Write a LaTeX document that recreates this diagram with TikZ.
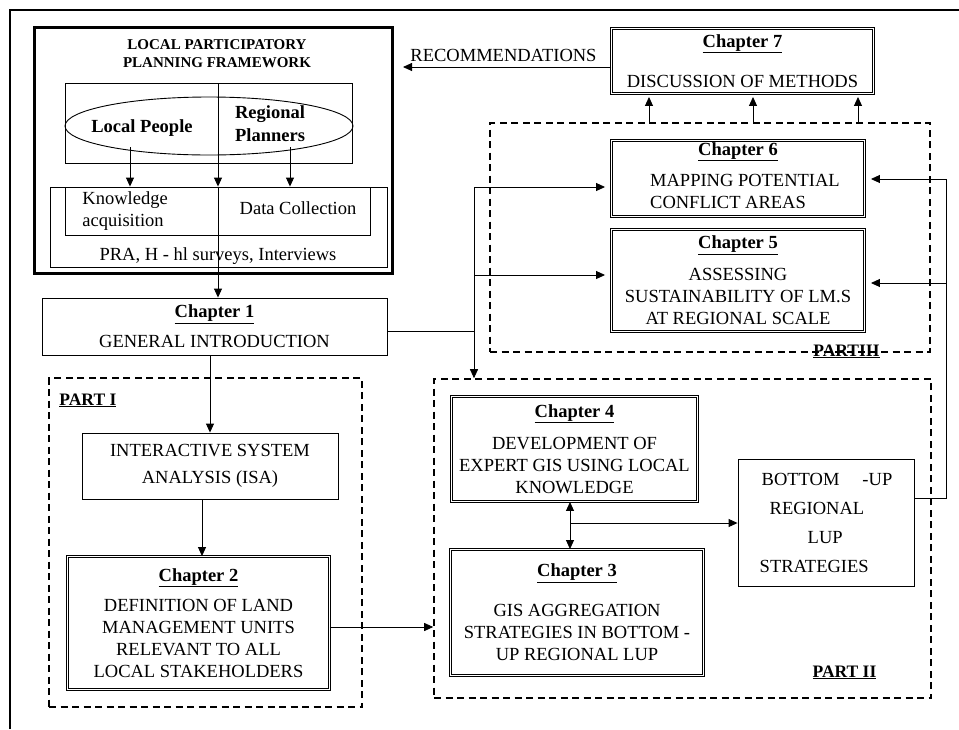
\documentclass[tikz,border=0pt]{standalone}
\usepackage{fontspec}
\setmainfont{Liberation Serif}
\usetikzlibrary{arrows.meta,shapes.geometric}
\newcommand{\chap}[1]{\underline{\textbf{#1}}}

\begin{document}
\begin{tikzpicture}[x=1pt, y=-1pt, line width=0.9pt,
                    every node/.style={font=\fontsize{18.5}{22}\selectfont,
                                       inner sep=0pt, align=center},
                    chapbox/.style={draw, double, double distance=1.5pt},
                    plainbox/.style={draw},
                    partbox/.style={draw, line width=1.6pt,
                                    dash pattern=on 7pt off 4.5pt},
                    partlabel/.style={font=\bfseries\fontsize{17.5}{20}\selectfont},
                    flow/.style={-{Triangle[length=9pt,width=8pt]}},
                    twoway/.style={{Triangle[length=9pt,width=8pt]}-{Triangle[length=9pt,width=8pt]}}]
  \useasboundingbox (0,0) rectangle (959,729);
  \draw[line width=2pt] (10,729) -- (10,10) -- (959,10);

  % framework
  \node[draw, line width=2.6pt, minimum width=358pt, minimum height=246pt] (lppf) at (213.5,150.5) {};
  \node[font=\bfseries\fontsize{15}{18}\selectfont] (title) at (217,54) {LOCAL PARTICIPATORY\\PLANNING FRAMEWORK};
  \node[plainbox, minimum width=287pt, minimum height=80pt] (actors) at (208.5,123) {};
  \node[draw, ellipse, minimum width=288pt, minimum height=58pt] (people) at (209,126) {};
  \node[font=\bfseries\fontsize{18.5}{22}\selectfont] (local) at (142,128) {Local People};
  \node[font=\bfseries\fontsize{18.5}{23}\selectfont] (regional) at (270,123.5) {Regional\\Planners};
  \node[plainbox, minimum width=337pt, minimum height=80pt] (methods) at (218.5,227) {};
  \node[plainbox, minimum width=305pt, minimum height=48pt] (acquire) at (217.5,211) {};
  \node[anchor=west, align=left] (knowledge) at (82,211) {Knowledge\\acquisition};
  \node (data) at (298,208) {Data Collection};
  \node (pra) at (218,256) {PRA, H - hl surveys, Interviews};

  % chapters
  \node[plainbox, minimum width=345pt, minimum height=57pt] (ch1) at (214.5,326.5)
       {\chap{Chapter 1}\\[8pt] GENERAL INTRODUCTION};
  \node[plainbox, minimum width=256pt, minimum height=66pt] (isa) at (210,466)
       {INTERACTIVE SYSTEM\\[5pt] ANALYSIS (ISA)};
  \node[chapbox, minimum width=262pt, minimum height=133pt] (ch2) at (198.5,623)
       {\chap{Chapter 2}\\[8pt] DEFINITION OF LAND\\MANAGEMENT UNITS\\RELEVANT TO ALL\\LOCAL STAKEHOLDERS};
  \node[chapbox, minimum width=253pt, minimum height=126pt] (ch3) at (577,612.5)
       {\chap{Chapter 3}\\[18pt] GIS AGGREGATION\\STRATEGIES IN BOTTOM -\\UP REGIONAL LUP};
  \node[chapbox, minimum width=246pt, minimum height=105pt] (ch4) at (574.5,449)
       {\chap{Chapter 4}\\[10pt] DEVELOPMENT OF\\EXPERT GIS USING LOCAL\\KNOWLEDGE};
  \node[chapbox, minimum width=253pt, minimum height=102pt] (ch5) at (738,280.5)
       {\chap{Chapter 5}\\[10pt] ASSESSING\\SUSTAINABILITY OF LM.S\\AT REGIONAL SCALE};
  \node[chapbox, minimum width=253pt, minimum height=76pt] (ch6) at (738,178.5)
       {\chap{Chapter  6}\\[9pt] \hspace*{14pt}\begin{tabular}[t]{@{}l@{}}MAPPING POTENTIAL\\CONFLICT AREAS\end{tabular}};
  \node[chapbox, minimum width=262pt, minimum height=65pt] (ch7) at (742.5,61)
       {\chap{Chapter 7}\\[18pt] DISCUSSION OF METHODS};
  \node[plainbox, minimum width=176pt, minimum height=127pt, align=left] (bup) at (826,522.5)
       {\hspace*{2pt}BOTTOM\hspace*{23pt}-UP\\[7pt]\hspace*{10pt}REGIONAL\\[7pt]\hspace*{48pt}LUP\\[7pt]STRATEGIES};

  % parts
  \node[partbox, minimum width=313pt, minimum height=329pt] (part1) at (205.5,542.5) {};
  \node[partbox, minimum width=497pt, minimum height=319pt] (part2) at (682.5,538.5) {};
  \node[partbox, minimum width=440pt, minimum height=229pt] (part3) at (710,237.5) {};
  \node[partlabel, anchor=base west] (p1label) at (59,405) {\chap{PART I}};
  \node[partlabel, anchor=base] (p2label) at (844.5,677) {\chap{PART II}};
  \node[partlabel, anchor=base] (p3label) at (846.5,356) {\chap{PARTIII}};
  \node (rectext) at (503.5,55) {RECOMMENDATIONS};

  \coordinate (spine) at (218,83);
  \coordinate (lp) at (130,147);
  \coordinate (rp) at (290,147);
  \coordinate (j1) at (474,331);
  \coordinate (j6) at (474,187);
  \coordinate (j5) at (474,275);
  \coordinate (k) at (946,498);
  \coordinate (k6) at (946,179);
  \coordinate (k5) at (946,283);
  \coordinate (m) at (570,523);
  \coordinate (c2) at (331,627);
  \coordinate (rec) at (403,67);

  \foreach \a in {spine, lp, rp} {
    \draw[flow] (\a) -- (\a |- acquire.north);
  }
  \draw[flow] (spine |- acquire.north) -- (spine |- ch1.north);
  \draw[flow] (ch1.south -| isa.north) -- (isa.north);
  \draw[flow] ([xshift=3.5pt]isa.south -| ch2.north) -- ([xshift=3.5pt]ch2.north);
  \draw (ch1.east |- j1) -- (j1);
  \draw[flow] (j6) -- (j6 |- part2.north);
  \draw[flow, shorten >=6pt] (j6) -- (j6 -| ch6.west);
  \draw[flow, shorten >=6pt] (j5) -- (j5 -| ch5.west);
  \draw (bup.east |- k) -- (k) -- (k6);
  \draw[flow, shorten >=6pt] (k6) -- (k6 -| ch6.east);
  \draw[flow, shorten >=6pt] (k5) -- (k5 -| ch5.east);
  \foreach \x in {649,753,858} {
    \coordinate (u) at (\x,0);
    \draw[flow, shorten >=3pt] (part3.north -| u) -- (ch7.south -| u);
  }
  \draw[flow] (ch7.west |- rec) -- (rec);
  \draw[twoway] (ch4.south -| m) -- (ch3.north -| m);
  \draw[flow] (m) -- (m -| bup.west);
  \draw[flow] (ch2.east |- c2) -- (c2 -| part2.west);
\end{tikzpicture}
\end{document}
